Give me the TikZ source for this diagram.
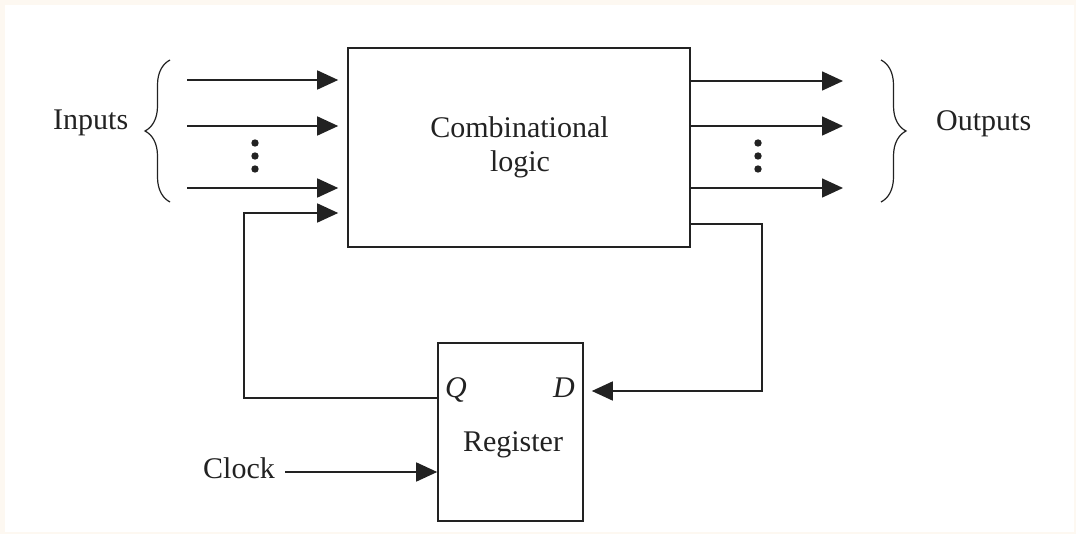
\documentclass[tikz,border=0pt]{standalone}
\usepackage{fontspec}
\setmainfont{Liberation Serif}
\usetikzlibrary{arrows.meta,decorations.pathreplacing}
\definecolor{paper}{HTML}{FDF8F1}
\definecolor{ink}{HTML}{222222}
\tikzset{
  wire/.style={draw=ink, line width=1.6pt},
  arr/.style={wire, -{Triangle[length=21pt,width=19pt]}},
  block/.style={draw=ink, line width=1.6pt, rectangle, inner sep=0pt, fill=white},
  txt/.style={inner sep=0pt, text=ink, font=\fontsize{30}{34}\selectfont},
  dotmark/.style={fill=ink, draw=none},
  bracepath/.style={draw=ink, line width=1.2pt, decorate, decoration={brace, amplitude=25pt}}
}
\begin{document}
\begin{tikzpicture}[x=1pt, y=-1pt]
% page and frame
\fill[paper] (0,0) rectangle (1076,534);
\fill[white] (5,5) rectangle (1074,532);
\useasboundingbox (0,0) rectangle (1076,534);

% blocks
\node[block, minimum width=342pt, minimum height=199pt] (comb) at (519,147.5) {};
\node[txt, anchor=base] (combA) at (519.5,138) {Combinational};
\node[txt, anchor=base] (combB) at (520,172) {logic};

\node[block, minimum width=145pt, minimum height=178pt] (reg) at (510.5,432) {};
\node[txt, anchor=base west] (qlab) at (445,397) {\textit{Q}};
\node[txt, anchor=base east] (dlab) at (575,397) {\textit{D}};
\node[txt, anchor=base] (reglab) at (513,451) {Register};

% side labels
\node[txt, anchor=base west] (inlab) at (53,130) {Inputs};
\node[txt, anchor=base west] (outlab) at (936,131) {Outputs};
\node[txt, anchor=base west] (clk) at (203,478) {Clock};

% inputs
\coordinate (in1) at (187,80);
\coordinate (in2) at (187,126);
\coordinate (in3) at (187,188);
\draw[arr, shorten >=9pt] (in1) -- (in1 -| comb.west);
\draw[arr, shorten >=9pt] (in2) -- (in2 -| comb.west);
\draw[arr, shorten >=9pt] (in3) -- (in3 -| comb.west);
\foreach \yy in {143,156,169} \fill[dotmark] (255,\yy) circle (3.7pt);
\draw[bracepath] (170,202) -- (170,60);

% outputs
\coordinate (out1) at (843,81);
\coordinate (out2) at (843,126);
\coordinate (out3) at (843,188);
\draw[arr] (comb.east |- out1) -- (out1);
\draw[arr] (comb.east |- out2) -- (out2);
\draw[arr] (comb.east |- out3) -- (out3);
\foreach \yy in {143,156,169} \fill[dotmark] (758,\yy) circle (3.7pt);
\draw[bracepath] (881,60) -- (881,202);

% next state into the register
\coordinate (dcorner) at (762,224);
\coordinate (dlevel) at (0,391);
\draw[arr, shorten >=8pt] (comb.east |- dcorner) -- (dcorner) |- (reg.east |- dlevel);

% state fed back to the logic
\coordinate (qcorner) at (244,213);
\coordinate (qlevel) at (0,398);
\draw[arr, shorten >=9pt] (reg.west |- qlevel) -| (qcorner) -- (comb.west |- qcorner);

% clock
\coordinate (clkstart) at (285,472);
\draw[arr] (clkstart) -- (reg.west |- clkstart);
\end{tikzpicture}
\end{document}
